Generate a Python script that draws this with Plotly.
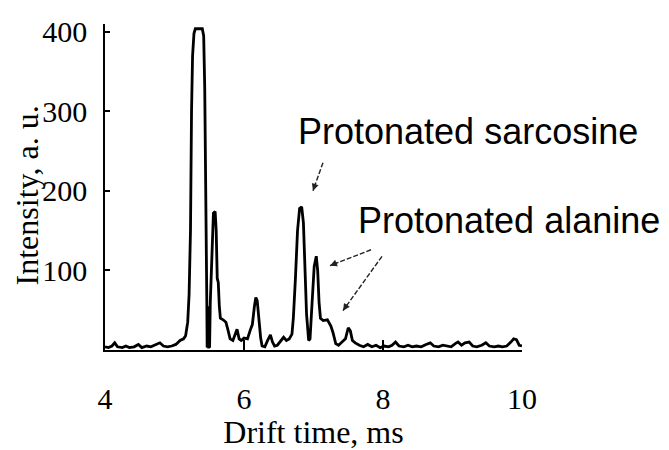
import plotly.graph_objects as go

# Ion mobility spectrum: drift time (ms) vs. intensity (a. u.)
drift_time = [
    4.00, 4.05, 4.10, 4.14, 4.18, 4.25, 4.30, 4.35, 4.42, 4.48, 4.53, 4.60,
    4.66, 4.72, 4.79, 4.84, 4.90, 4.96, 5.02, 5.08, 5.13, 5.16, 5.19, 5.21,
    5.23, 5.245, 5.26, 5.28, 5.30, 5.40, 5.42, 5.435, 5.445, 5.455, 5.465,
    5.47, 5.48, 5.49, 5.50, 5.505, 5.515, 5.53, 5.545, 5.56, 5.585, 5.60,
    5.615, 5.63, 5.645, 5.66, 5.70, 5.74, 5.77, 5.80, 5.84, 5.87, 5.90, 5.93,
    5.96, 6.00, 6.05, 6.09, 6.12, 6.15, 6.17, 6.19, 6.21, 6.24, 6.26, 6.30,
    6.34, 6.38, 6.41, 6.44, 6.48, 6.52, 6.57, 6.61, 6.65, 6.69, 6.71, 6.74,
    6.77, 6.80, 6.83, 6.855, 6.88, 6.90, 6.93, 6.95, 6.98, 7.01, 7.04, 7.06,
    7.08, 7.10, 7.14, 7.20, 7.25, 7.28, 7.32, 7.36, 7.41, 7.46, 7.50, 7.53,
    7.56, 7.60, 7.66, 7.72, 7.78, 7.84, 7.90, 7.96, 8.02, 8.08, 8.13, 8.18,
    8.23, 8.30, 8.36, 8.42, 8.48, 8.55, 8.62, 8.68, 8.73, 8.80, 8.86, 8.92,
    8.98, 9.04, 9.08, 9.13, 9.18, 9.24, 9.29, 9.35, 9.42, 9.48, 9.53, 9.60,
    9.66, 9.72, 9.78, 9.84, 9.88, 9.92, 9.96, 10.00,
]
intensity = [
    4, 3, 5, 9, 4, 3, 5, 3, 4, 7, 3, 5,
    4, 6, 9, 5, 4, 5, 7, 12, 14, 18, 35, 70,
    150, 300, 370, 398, 404, 404, 395, 330, 180, 150, 60,
    3, 55, 2, 45, 3, 60, 95, 150, 172, 174, 150,
    90, 85, 55, 40, 38, 35, 25, 14, 12, 18, 26, 14,
    12, 15, 14, 25, 32, 55, 66, 62, 40, 15, 5, 4,
    12, 19, 10, 5, 6, 10, 16, 12, 14, 20, 40, 90,
    150, 178, 180, 160, 105, 45, 12, 14, 60, 105, 118, 100,
    60, 40, 37, 38, 30, 22, 8, 6, 10, 14, 28, 24,
    12, 9, 6, 4, 7, 4, 6, 3, 5, 4, 6, 10,
    5, 4, 6, 4, 5, 4, 7, 9, 5, 4, 6, 5,
    4, 8, 10, 6, 9, 10, 5, 4, 6, 9, 5, 4,
    5, 4, 5, 10, 14, 13, 6, 5,
]

x_ticks = [4, 6, 8, 10]
y_ticks = [100, 200, 300, 400]
x_range = [4, 10]
y_range = [0, 410]

# Plot-area geometry in pixels (used for placing labels and arrows)
W, H = 669, 450
L, R, T, B = 105, 147, 24, 78
PW, PH = W - L - R, H - T - B


def to_paper(px, py):
    return (px - L) / PW, (H - B - py) / PH


serif = "Liberation Serif, Times New Roman, serif"
sans = "Liberation Sans, Arial, sans-serif"

fig = go.Figure()
fig.add_trace(go.Scatter(
    x=drift_time, y=intensity, mode="lines",
    line=dict(color="black", width=2.8), hoverinfo="skip", showlegend=False,
))

# Vertical axis title
xp, yp = to_paper(27, 207)
fig.add_annotation(
    x=xp, y=yp, xref="paper", yref="paper", text="Intensity, a. u.",
    showarrow=False, textangle=-90, xanchor="center", yanchor="middle",
    font=dict(family=serif, size=32, color="black"),
)

# Peak labels
labels = [
    ("Protonated sarcosine", 296, 139),
    ("Protonated alanine", 356, 234),
]
for text, px, py in labels:
    xp, yp = to_paper(px, py)
    fig.add_annotation(
        x=xp, y=yp, xref="paper", yref="paper", text=text, showarrow=False,
        xanchor="left", yanchor="middle",
        font=dict(family=sans, size=36, color="black"),
    )

# Dashed pointer arrows: (tail, head) in pixels
arrows = [
    ((323, 172), (313, 202)),
    ((371, 265), (330, 282)),
    ((382, 272), (343, 330)),
]
for (tx, ty), (hx, hy) in arrows:
    x0, y0 = to_paper(tx, ty)
    x1, y1 = to_paper(hx, hy)
    fig.add_shape(type="line", xref="paper", yref="paper",
                  x0=x0, y0=y0, x1=x1, y1=y1,
                  line=dict(color="#222", width=1.4, dash="5px,2px"))
    dx, dy = tx - hx, ty - hy
    n = (dx * dx + dy * dy) ** 0.5
    fig.add_annotation(
        x=x1, y=y1, xref="paper", yref="paper", text="",
        showarrow=True, arrowhead=2, arrowsize=1, arrowwidth=1.4,
        arrowcolor="#222", ax=dx / n * 9, ay=dy / n * 9,
    )

fig.update_layout(
    width=W, height=H,
    margin=dict(l=L, r=R, t=T, b=B),
    paper_bgcolor="white", plot_bgcolor="white",
    showlegend=False,
    xaxis=dict(
        range=x_range, tickvals=x_ticks, ticks="inside", ticklen=10,
        tickwidth=1.5, tickcolor="black", showline=True, linecolor="black",
        linewidth=1.5, showgrid=False, zeroline=False, ticklabelstandoff=21,
        tickfont=dict(family=serif, size=30, color="black"),
        title=dict(text="Drift time, ms", standoff=1,
                   font=dict(family=serif, size=32, color="black")),
    ),
    yaxis=dict(
        range=y_range, tickvals=y_ticks, ticks="inside", ticklen=5,
        tickwidth=1.5, tickcolor="black", showline=True, linecolor="black",
        linewidth=1.5, showgrid=False, zeroline=False, ticklabelstandoff=10,
        tickfont=dict(family=serif, size=30, color="black"),
    ),
)

fig.write_html("out.html")
